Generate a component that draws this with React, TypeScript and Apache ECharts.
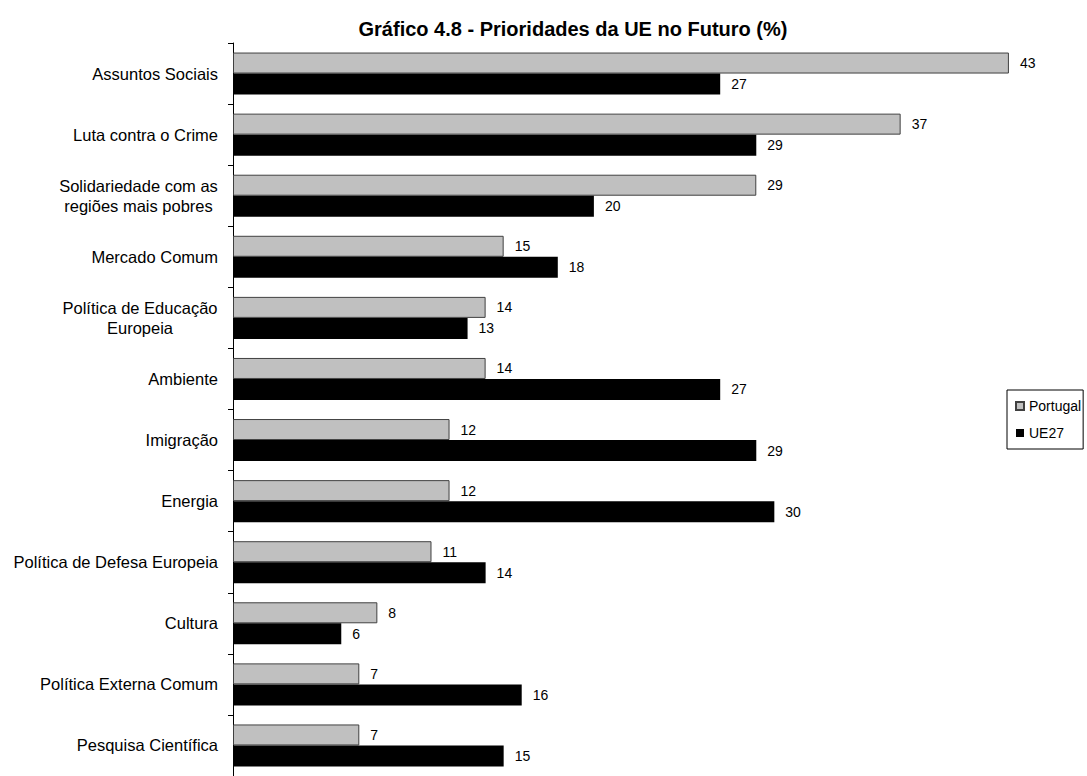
import React, { useEffect, useRef } from "react";
import * as echarts from "echarts";

const categories = [
  "Assuntos Sociais",
  "Luta contra o Crime",
  "Solidariedade com as\nregiões mais pobres",
  "Mercado Comum",
  "Política de Educação\nEuropeia",
  "Ambiente",
  "Imigração",
  "Energia",
  "Política de Defesa Europeia",
  "Cultura",
  "Política Externa Comum",
  "Pesquisa Científica",
];
const portugal = [43, 37, 29, 15, 14, 14, 12, 12, 11, 8, 7, 7];
const ue27 = [27, 29, 20, 18, 13, 27, 29, 30, 14, 6, 16, 15];
const titleText = "Gráfico 4.8 - Prioridades da UE no Futuro (%)";

const FONT = "'Liberation Sans', Arial, sans-serif";
const CAT_SIZE = 16.5;

export default function App() {
  const ref = useRef<HTMLDivElement>(null);
  useEffect(() => {
    document.body.style.margin = "0";
    if (!ref.current) return;
    const chart = echarts.init(ref.current, undefined, { renderer: "svg" });

    const canvas = document.createElement("canvas");
    const ctx = canvas.getContext("2d")!;
    ctx.font = `${CAT_SIZE}px 'Liberation Sans', Arial, sans-serif`;
    const rich: Record<string, any> = {};
    const keyFor: Record<string, string> = {};
    categories.forEach((c, i) => {
      if (c.includes("\n")) {
        const w = Math.max(...c.split("\n").map((l) => ctx.measureText(l).width));
        const k = "m" + i;
        keyFor[c] = k;
        rich[k] = {
          width: Math.ceil(w),
          align: "center",
          fontSize: CAT_SIZE,
          fontFamily: FONT,
          color: "#000",
          lineHeight: 20,
        };
      }
    });

    chart.setOption({
      animation: false,
      textStyle: { fontFamily: FONT },
      title: {
        text: titleText,
        left: 568,
        textAlign: "center",
        top: 14,
        textStyle: { fontSize: 20, fontWeight: "bold", color: "#000", fontFamily: FONT },
      },
      legend: {
        orient: "vertical",
        left: 1007,
        top: 390,
        padding: [9, 2, 9, 8],
        itemGap: 13,
        itemWidth: 8,
        itemHeight: 8,
        icon: "rect",
        borderColor: "#000",
        borderWidth: 1,
        borderRadius: 0,
        textStyle: { fontSize: 14, color: "#000", fontFamily: FONT },
        data: ["Portugal", "UE27"],
      },
      grid: { left: 233, top: 43, width: 812, height: 742, containLabel: false },
      xAxis: {
        type: "value",
        min: 0,
        max: 45,
        show: false,
      },
      yAxis: {
        type: "category",
        inverse: true,
        data: categories,
        axisLine: { show: true, lineStyle: { color: "#000", width: 1 } },
        axisTick: { show: true, length: 5, lineStyle: { color: "#000" } },
        axisLabel: {
          margin: 15,
          fontSize: CAT_SIZE,
          color: "#000",
          fontFamily: FONT,
          lineHeight: 20,
          formatter: (v: string) =>
            keyFor[v]
              ? v
                  .split("\n")
                  .map((l) => `{${keyFor[v]}|${l}}`)
                  .join("\n")
              : v,
          rich,
        },
        splitLine: { show: false },
      },
      series: [
        {
          name: "Portugal",
          type: "bar",
          data: portugal,
          barWidth: 21,
          barGap: "0%",
          itemStyle: { color: "#c0c0c0", borderColor: "#404040", borderWidth: 1 },
          label: {
            show: true,
            position: "right",
            distance: 11,
            fontSize: 14,
            color: "#000",
            fontFamily: FONT,
          },
        },
        {
          name: "UE27",
          type: "bar",
          data: ue27,
          barWidth: 21,
          barGap: "0%",
          itemStyle: { color: "#000" },
          label: {
            show: true,
            position: "right",
            distance: 11,
            fontSize: 14,
            color: "#000",
            fontFamily: FONT,
          },
        },
      ],
    });
    return () => chart.dispose();
  }, []);
  return <div ref={ref} style={{ width: 1087, height: 776 }} />;
}
